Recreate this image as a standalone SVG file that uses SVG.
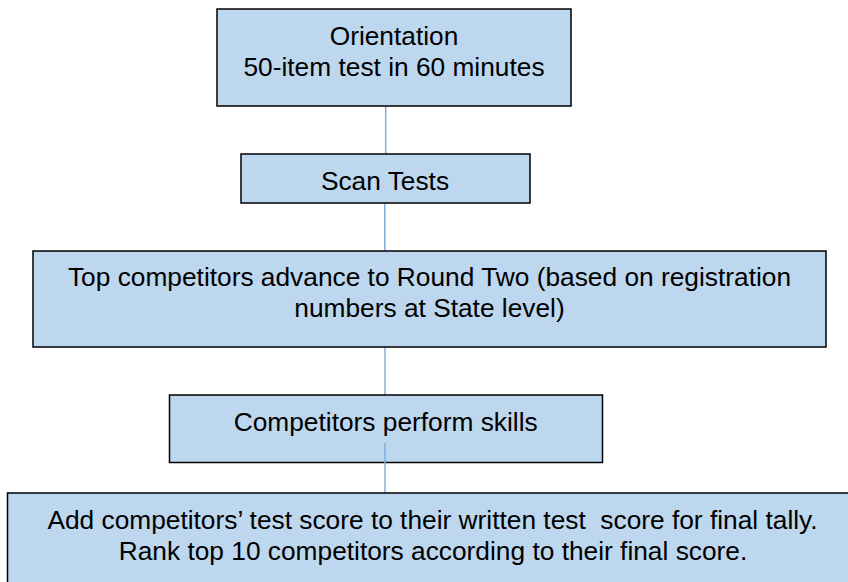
<svg xmlns="http://www.w3.org/2000/svg" width="848" height="582" viewBox="0 0 848 582">
  <style>
    .box { fill: #BDD7EE; stroke: #000000; stroke-width: 1.5; }
    .lbl { font-family: "Liberation Sans", Arial, sans-serif; font-size: 26.3px; fill: #000000; text-anchor: middle; }
    .conn { stroke: #7FAEDC; stroke-width: 1.5; fill: none; }
  </style>
  <rect x="0" y="0" width="848" height="582" fill="#FFFFFF"/>
  <g id="connectors">
    <line class="conn" x1="385.7" y1="106" x2="385.7" y2="154"/>
    <line class="conn" x1="384.8" y1="203" x2="384.8" y2="251"/>
    <line class="conn" x1="385" y1="347" x2="385" y2="395"/>
  </g>
  <g id="node-orientation">
    <rect class="box" x="217" y="9" width="354" height="97"/>
    <text class="lbl" x="394" y="45">Orientation</text>
    <text class="lbl" x="394" y="76">50-item test in 60 minutes</text>
  </g>
  <g id="node-scan">
    <rect class="box" x="241" y="154" width="289" height="49"/>
    <text class="lbl" x="385" y="190">Scan Tests</text>
  </g>
  <g id="node-advance">
    <rect class="box" x="33" y="251" width="793" height="96"/>
    <text class="lbl" x="429.5" y="285.7">Top competitors advance to Round Two (based on registration</text>
    <text class="lbl" x="429.5" y="317.3">numbers at State level)</text>
  </g>
  <g id="node-perform">
    <rect class="box" x="169.5" y="395" width="433" height="67.5"/>
    <text class="lbl" x="385.7" y="430.7">Competitors perform skills</text>
  </g>
  <g id="connectors-2">
    <line class="conn" x1="385" y1="443" x2="385" y2="493"/>
  </g>
  <g id="node-tally">
    <rect class="box" x="7.5" y="493" width="852" height="110"/>
    <text class="lbl" x="432.5" y="529" xml:space="preserve">Add competitors’ test score to their written test  score for final tally.</text>
    <text class="lbl" x="433" y="560">Rank top 10 competitors according to their final score.</text>
  </g>
</svg>
